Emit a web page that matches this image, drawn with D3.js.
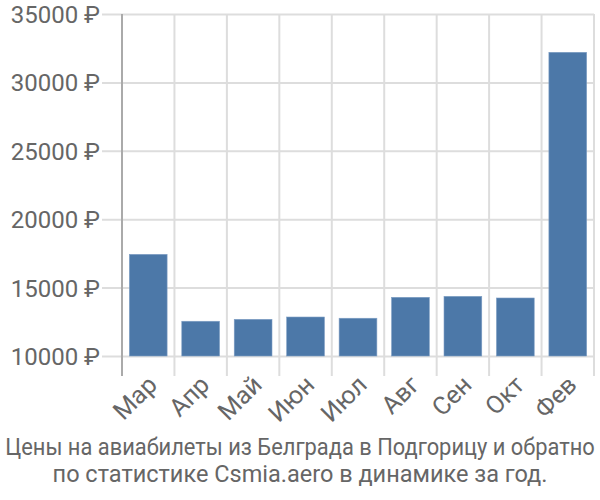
<!DOCTYPE html>
<html><head><meta charset="utf-8">
<script src="https://cdn.jsdelivr.net/npm/d3@7"></script>
<style>body{margin:0;background:#fff}svg{display:block}</style>
</head><body>
<svg id="c" width="600" height="500"></svg>
<script>
const categories = ["Мар","Апр","Май","Июн","Июл","Авг","Сен","Окт","Фев"];
const values = [17430,12540,12680,12850,12760,14290,14360,14240,32200];
const yTicks = [10000,15000,20000,25000,30000,35000];
const titleLines = ["Цены на авиабилеты из Белграда в Подгорицу и обратно","по статистике Csmia.aero в динамике за год."];

(function(){
const svg = d3.select("#c");
const font = "Roboto, 'Liberation Sans', sans-serif";
const pL = 122, pR = 594, pT = 14, pB = 356;
const x = d3.scaleBand().domain(categories).range([pL, pR]).padding(0);
const y = d3.scaleLinear().domain([10000,35000]).range([pB, pT]);

const ya = svg.append("g").attr("transform",`translate(${pL},0)`)
  .call(d3.axisLeft(y).tickValues(yTicks).tickSize(20).tickPadding(2).tickFormat(d=>d+" ₽"));
ya.select(".domain").remove();
ya.selectAll(".tick line").attr("stroke","#ddd").attr("x2", pR-pL).attr("x1",-20).attr("stroke-width",2);
ya.selectAll(".tick text").attr("fill","#666").style("font-family",font).style("font-size","24px").attr("dy","0.35em");

const bounds = categories.map(c=>x(c)).concat([pR]);
svg.append("g").selectAll("line").data(bounds).join("line")
  .attr("x1",d=>d).attr("x2",d=>d).attr("y1",pT).attr("y2",pB+20)
  .attr("stroke",(d,i)=>i===0?"#aaa":"#ddd").attr("stroke-width",2);

const bw = x.bandwidth()*0.72;
svg.append("g").selectAll("rect").data(values).join("rect")
  .attr("x",(d,i)=>x(categories[i])+(x.bandwidth()-bw)/2)
  .attr("width",bw)
  .attr("y",d=>y(d)).attr("height",d=>pB-y(d))
  .attr("fill","#4c78a8").attr("stroke","#7e9ec4").attr("stroke-width",0.6);

svg.append("g").selectAll("text").data(categories).join("text")
  .attr("transform",d=>`translate(${x(d)+x.bandwidth()/2-2},${pB+18}) rotate(-45)`)
  .attr("text-anchor","end").attr("dy","0.7em")
  .attr("fill","#666").style("font-family",font).style("font-size","25px")
  .text(d=>d);

svg.append("g").selectAll("text").data(titleLines).join("text")
  .attr("text-anchor","middle").attr("fill","#666")
  .style("font-family",font).style("font-size","23.5px")
  .text(d=>d)
  .each(function(d,i){
    const len = this.getComputedTextLength();
    const s = Math.min(1, 590/len);
    d3.select(this).attr("transform",`translate(300,${455+i*27}) scale(${s},1)`);
  });
})();
</script>
</body></html>
